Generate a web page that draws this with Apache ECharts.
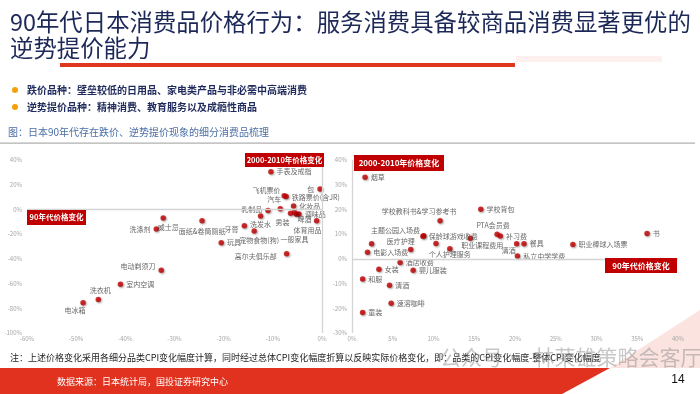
<!DOCTYPE html>
<html><head><meta charset="utf-8">
<script src="https://cdn.jsdelivr.net/npm/echarts@6/dist/echarts.min.js"></script>
<style>html,body{margin:0;padding:0;background:#fff}#c{width:700px;height:394px}</style>
</head><body><div id="c"></div>
<script>
// ---------- Left chart: 90s price change (x) vs 2000-2010 price change (y) ----------
const leftNames = ['手表及戒指','包','飞机票价','铁路票价(含JR)','汽车','乳制品','化妆品','调味品','男装','一般家具','啤酒','体育用品','洗发水','牙膏','宠物食物(狗)','玩具','高尔夫俱乐部','面纸&卷筒厕纸','威士忌','洗涤剂','电动剃须刀','室内空调','洗衣机','电冰箱'];
const leftX = [-10.4,-0.4,-7.7,-7.3,-8.5,-11.0,-5.8,-4.7,-6.4,-5.2,-5.6,-1.1,-12.5,-15.8,-13.8,-20.5,-7.2,-24.4,-32.3,-33.7,-32.7,-41.0,-45.5,-48.6];
const leftY = [30.5,16.5,11.0,10.4,0.6,-0.8,2.8,-3.7,-3.1,-3.9,-2.3,-9.1,-5.3,-13.2,-17.4,-27.0,-35.9,-9.1,-7.0,-15.9,-49.3,-60.5,-72.8,-75.6];
const leftLabelPos = [['right',0,0],['left',0,0],['left',2,-5],['right',0,1],['top',-6,0],['left',0,-1],['right',0,0],['right',0,0],['bottom',-8,0],['bottom',-2,16],['bottom',10,-2],['bottom',-9,0],['bottom',0,-1],['left',0,4],['bottom',5,0],['right',0,0],['left',-4,3],['bottom',0,1],['bottom',5,0],['left',0,0],['left',0,-4],['right',0,0],['top',2,0],['bottom',-8,-2]];

// ---------- Right chart ----------
const rightNames = ['烟草','学校背包','学校教科书&学习参考书','主题公园入场费','保龄球游戏收费','','电影入场费','医疗护理','','个人护理服务','职业课程费用','PTA会员费','补习费','清酒','餐具','私立中学学费','职业棒球入场票','书','酒店收费','女装','婴儿服装','和服','清酒','速溶咖啡','童装'];
const rightX = [1.6,15.8,10.8,8.8,8.7,2.4,1.9,7.2,10.3,12.0,14.5,17.8,18.2,20.2,21.1,20.3,27.1,36.2,5.9,3.3,7.5,1.3,4.6,4.8,1.3];
const rightY = [33.0,20.1,15.4,9.3,9.1,6.1,2.7,3.8,6.2,4.1,8.3,10.0,9.2,6.1,6.1,1.2,5.8,10.3,-1.5,-4.2,-4.6,-8.2,-10.7,-18.0,-21.7];
const rightLabelPos = [['right',0,0],['right',0,0],['top',-21,0],['left',2,-6],['right',0,0],['right',0,0],['right',0,0],['top',-10,1],['right',0,0],['bottom',0,-4],['bottom',12,-2],['top',-4,0],['right',0,0],['bottom',-8,-3],['right',0,0],['right',0,0],['right',0,0],['right',0,0],['right',0,0],['right',0,0],['right',0,0],['right',0,0],['right',0,0],['right',0,0],['right',0,0]];

// tick label values
const leftXTickValues = [-60,-50,-40,-30,-20,-10,0];
const leftYTickValues = [-100,-80,-60,-40,-20,0,20,40];
const rightXTickValues = [0,5,10,15,20,25,30,35,40];
const rightYTickValues = [-30,-20,-10,0,10,20,30,40];

const FONT = '"Noto Sans CJK SC","Noto Sans",sans-serif';
const RED = '#c00000';
const TICK_COLOR = '#a6a6a6';

function buildData(names, xs, ys, pos){
  return names.map((n,i)=>({
    name:n, value:[xs[i],ys[i]],
    label:{position:pos[i][0], offset:[pos[i][1],pos[i][2]]}
  }));
}
function mkAxis(grid, ticks, margin, showLabel){
  const min = ticks[0], max = ticks[ticks.length-1];
  return {gridIndex:grid,min:min,max:max,interval:ticks[1]-ticks[0],
    axisLine:{show:false},axisTick:{show:false},splitLine:{show:false},
    axisLabel:{show:showLabel,fontSize:6,color:TICK_COLOR,fontFamily:FONT,formatter:v=>v+'%',
      showMinLabel:true,showMaxLabel:true,margin:margin}};
}
const zeroLine = {silent:true,symbol:'none',label:{show:false},
  lineStyle:{color:'#d4d4d4',width:1.3,type:'solid'},data:[{xAxis:0},{yAxis:0}]};
function scatter(idx, data){
  return {type:'scatter',xAxisIndex:idx,yAxisIndex:idx,data:data,symbol:'circle',symbolSize:5.5,
    itemStyle:{color:RED,shadowColor:'rgba(0,0,0,0.45)',shadowBlur:2,shadowOffsetX:1,shadowOffsetY:1},
    label:{show:true,formatter:'{b}',fontSize:7,color:'#404040',fontFamily:FONT,distance:3},
    markLine:zeroLine, z:3};
}

function box(x,y,w,h,text,fs){
  return [{type:'rect',shape:{x:x,y:y,width:w,height:h},style:{fill:RED},z:10},
    {type:'text',style:{x:x+w/2,y:y+h/2,text:text,fill:'#fff',font:'bold '+fs+'px '+FONT,textAlign:'center',textVerticalAlign:'middle',verticalAlign:'middle'},z:11}];
}
function txt(x,y,text,font,fill,align){
  return {type:'text',style:{x:x,y:y,text:text,font:font,fill:fill,textAlign:align||'left',textVerticalAlign:'middle',verticalAlign:'middle'},z:10};
}

const graphics = [].concat(
  [txt(10,22,'90年代日本消费品价格行为：服务消费具备较商品消费显著更优的','23.4px '+FONT,'#1c2858'),
   txt(10,48,'逆势提价能力','23.4px '+FONT,'#1c2858'),
   {type:'rect',shape:{x:60,y:63,width:455,height:4},style:{fill:'#e0361e'},z:10},
   {type:'rect',shape:{x:516,y:56,width:146,height:6},style:{fill:'#fdf0ee'},z:10},
   {type:'circle',shape:{cx:15,cy:90,r:3},style:{fill:'#f5a00a'},z:10},
   {type:'circle',shape:{cx:15,cy:107,r:3},style:{fill:'#f5a00a'},z:10},
   txt(27,90,'跌价品种：壁垒较低的日用品、家电类产品与非必需中高端消费','bold 10px '+FONT,'#1f2a5c'),
   txt(27,107,'逆势提价品种：精神消费、教育服务以及成瘾性商品','bold 10px '+FONT,'#1f2a5c'),
   txt(8,132,'图：日本90年代存在跌价、逆势提价现象的细分消费品梳理','10px '+FONT,'#4a6fa5'),
   {type:'rect',shape:{x:0,y:142.5,width:695,height:1.2},style:{fill:'#b0b0b0'},z:10}
  ],
  box(245,153,79,14,'2000-2010年价格变化',7.5),
  box(27,210,59,15,'90年代价格变化',7.5),
  box(354,155,90,16,'2000-2010年价格变化',8),
  box(605,258,72,15,'90年代价格变化',8),
  [txt(10,358,'注：上述价格变化采用各细分品类CPI变化幅度计算，同时经过总体CPI变化幅度折算以反映实际价格变化，即：品类的CPI变化幅度-整体CPI变化幅度','9px '+FONT,'#222'),
   {type:'polygon',shape:{points:[[610,368],[700,310],[700,368]]},style:{fill:'#fbe4e0'},z:9},
   {type:'polygon',shape:{points:[[0,368],[610,368],[562,394],[0,394]]},style:{fill:'#e0321e'},z:9},
   txt(57,382,'数据来源：日本统计局，国投证券研究中心','9px '+FONT,'#fff'),
   txt(678,380,'14','12px "Liberation Sans",Arial,sans-serif','#111','center'),
   txt(440,357,'公众号 · 林荣雄策略会客厅','21px '+FONT,'rgba(130,130,130,0.45)')
  ]
);

const chart = echarts.init(document.getElementById('c'),null,{renderer:'canvas'});
chart.setOption({
  animation:false,
  backgroundColor:'#fff',
  grid:[{left:27,right:378,top:160,bottom:61},{left:352,right:22,top:160,bottom:61}],
  xAxis:[mkAxis(0,leftXTickValues,4,false),mkAxis(1,rightXTickValues,4,false)],
  yAxis:[mkAxis(0,leftYTickValues,5,true),mkAxis(1,rightYTickValues,5,true)],
  series:[scatter(0,buildData(leftNames,leftX,leftY,leftLabelPos)),
          scatter(1,buildData(rightNames,rightX,rightY,rightLabelPos))],
  graphic:graphics
});

// x-axis tick labels placed through the axes' own scales
const xLabels = [];
[[0,leftXTickValues],[1,rightXTickValues]].forEach(([idx,ticks])=>{
  ticks.forEach(v=>{
    const px = chart.convertToPixel({xAxisIndex:idx}, v);
    xLabels.push({type:'text',style:{x:px,y:339,text:v+'%',font:'6px '+FONT,fill:TICK_COLOR,textAlign:'center',textVerticalAlign:'middle',verticalAlign:'middle'},z:10});
  });
});
chart.setOption({graphic:graphics.concat(xLabels)});
</script></body></html>
